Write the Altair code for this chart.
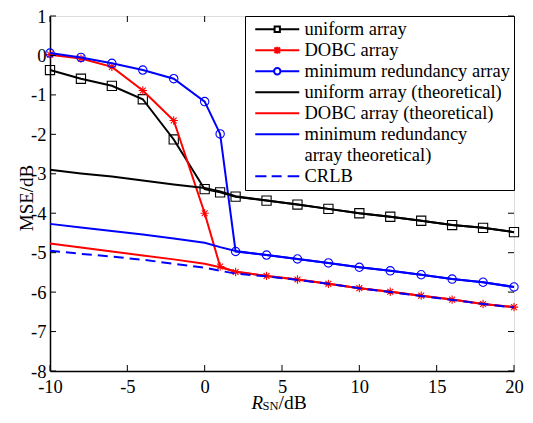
import altair as alt
import pandas as pd

# ---------------- data ----------------
snr = [-10, -8, -6, -4, -2, 0, 1, 2, 4, 6, 8, 10, 12, 14, 16, 18, 20]
uniform_sim = [-0.37, -0.59, -0.77, -1.11, -2.13, -3.39, -3.47, -3.58, -3.68, -3.78, -3.89, -4.0, -4.09, -4.19, -4.3, -4.37, -4.48]
dobc_sim = [0.02, -0.08, -0.29, -0.89, -1.65, -4.0, -5.35, -5.49, -5.59, -5.68, -5.79, -5.9, -5.99, -6.09, -6.19, -6.3, -6.38]
mra_sim = [0.06, -0.05, -0.2, -0.37, -0.59, -1.17, -1.99, -4.97, -5.06, -5.16, -5.26, -5.37, -5.46, -5.56, -5.67, -5.75, -5.87]
uniform_th = [-2.9, -2.99, -3.07, -3.17, -3.27, -3.36, -3.45, -3.57, -3.68, -3.78, -3.89, -4.0, -4.09, -4.19, -4.3, -4.37, -4.48]
dobc_th = [-4.77, -4.87, -4.97, -5.07, -5.17, -5.28, -5.37, -5.48, -5.59, -5.68, -5.79, -5.9, -5.99, -6.09, -6.19, -6.3, -6.38]
mra_th = [-4.27, -4.36, -4.45, -4.54, -4.64, -4.75, -4.86, -4.96, -5.06, -5.16, -5.26, -5.37, -5.46, -5.56, -5.67, -5.75, -5.87]
crlb = [-4.95, -5.03, -5.1, -5.18, -5.28, -5.38, -5.46, -5.53, -5.6, -5.69, -5.79, -5.9, -6.0, -6.1, -6.2, -6.3, -6.39]

series_names = [
    "uniform array",
    "DOBC array",
    "minimum redundancy array",
    "uniform array (theoretical)",
    "DOBC array (theoretical)",
    "minimum redundancy array theoretical)",
    "CRLB",
]
series_values = [uniform_sim, dobc_sim, mra_sim, uniform_th, dobc_th, mra_th, crlb]
series_colors = ["#000000", "#ff0000", "#0000ff", "#000000", "#ff0000", "#0000ff", "#0000ff"]
series_markers = ["square", "asterisk", "circle", None, None, None, None]
series_dash = [None, None, None, None, None, None, [10, 6]]

x_ticks = [-10, -5, 0, 5, 10, 15, 20]
y_ticks = [1, 0, -1, -2, -3, -4, -5, -6, -7, -8]

# ---------------- style ----------------
W, H = 464, 355
FONT = "Liberation Serif"
FS = 18.5

ASTERISK = "M-1,0L1,0M0,-1L0,1M-0.7,-0.7L0.7,0.7M-0.7,0.7L0.7,-0.7"
marker_shape = {"square": "square", "circle": "circle", "asterisk": ASTERISK}
marker_size = {"square": 85, "circle": 70, "asterisk": 70}

# legend symbols (unit = 8 px)
L0, L1, C = -0.375, 5.125, 2.375
legend_paths = [
    f"M{L0},0L{C-0.33},0M{C-0.33},-0.33L{C+0.33},-0.33L{C+0.33},0.33L{C-0.33},0.33ZM{C+0.33},0L{L1},0",
    f"M{L0},0L{L1},0M{C},-0.45L{C},0.45M{C-0.35},-0.35L{C+0.35},0.35M{C-0.35},0.35L{C+0.35},-0.35",
    f"M{L0},0L{C-0.4},0A0.4,0.4,0,1,1,{C+0.4},0A0.4,0.4,0,1,1,{C-0.4},0M{C+0.4},0L{L1},0",
    f"M{L0},0L{L1},0",
    f"M{L0},0L{L1},0",
    f"M{L0},0L{L1},0",
    f"M{L0},0L{L0+1.4},0M{L0+2.05},0L{L0+3.3},0M{L0+4.05},0L{L1},0",
]

xscale = alt.Scale(domain=[-10, 20], nice=False, zero=False)
yscale = alt.Scale(domain=[-8, 1], nice=False, zero=False)
NEG = "datum.value < 0 ? '-' + abs(datum.value) : '' + datum.value"
xaxis = alt.Axis(title=None, values=x_ticks, ticks=False, tickSize=0, grid=False,
                 labelPadding=6, labelFont=FONT, labelFontSize=FS, labelColor="black",
                 domainColor="black", domainWidth=1.5, labelExpr=NEG,
                 labelFlush=False, labelOverlap=False)
yaxis = alt.Axis(title="MSE/dB", values=y_ticks, ticks=False, tickSize=0, grid=False,
                 labelPadding=4, labelFont=FONT, labelFontSize=FS, labelColor="black",
                 domainColor="black", domainWidth=1.5, labelExpr=NEG,
                 labelFlush=False, labelOverlap=False,
                 titleFont=FONT, titleFontSize=19, titleFontWeight="normal", titleColor="black",
                 titleX=-24, titleY=H / 2 + 4, titleAngle=270, titleAlign="center", titleBaseline="middle")

X = alt.X("x:Q", scale=xscale, axis=xaxis)
Y = alt.Y("y:Q", scale=yscale, axis=yaxis)

rows = []
for name, vals in zip(series_names, series_values):
    for xv, yv in zip(snr, vals):
        rows.append({"series": name, "x": xv, "y": yv})
df = pd.DataFrame(rows)

layers = []
for name, col, mk, dash in zip(series_names, series_colors, series_markers, series_dash):
    sub = df[df.series == name]
    kw = dict(color=col, strokeWidth=2)
    if dash:
        kw["strokeDash"] = dash
    layers.append(alt.Chart(sub).mark_line(**kw).encode(x=X, y=Y))
    if mk:
        layers.append(
            alt.Chart(sub).mark_point(shape=marker_shape[mk], size=marker_size[mk], filled=False,
                                      color=col, strokeWidth=1.1, opacity=1).encode(x=X, y=Y)
        )

# inward ticks on all four sides
xt = pd.DataFrame({"x": x_ticks})
yt = pd.DataFrame({"y": y_ticks})
for yv in [H - 3, 3]:
    layers.append(alt.Chart(xt).mark_tick(orient="vertical", size=6, thickness=1, color="black", opacity=1)
                  .encode(x=X, y=alt.value(yv)))
for xv in [3, W - 3]:
    layers.append(alt.Chart(yt).mark_tick(orient="horizontal", size=6, thickness=1, color="black", opacity=1)
                  .encode(y=Y, x=alt.value(xv)))

# legend layer (no visible marks)
leg = alt.Legend(title=None, orient="top-right", offset=0, padding=4, labelFont=FONT,
                 labelFontSize=FS, labelLimit=0, labelOffset=37, symbolSize=256,
                 symbolStrokeWidth=2, rowPadding=2, fillColor="white", strokeColor="black",
                 labelColor="black", symbolOpacity=1,
                 labelExpr="datum.label == 'minimum redundancy array theoretical)' ? ['minimum redundancy', 'array theoretical)'] : datum.label")
layers.append(
    alt.Chart(df).transform_filter("false").mark_point(filled=False, opacity=1).encode(
        x=X, y=Y,
        color=alt.Color("series:N", scale=alt.Scale(domain=series_names, range=series_colors), legend=leg),
        shape=alt.Shape("series:N", scale=alt.Scale(domain=series_names, range=legend_paths), legend=leg),
    )
)

# x-axis title with subscript
one = pd.DataFrame({"t": [0]})
TX = W / 2 - 30.5
layers.append(alt.Chart(one).mark_text(text="R", font=FONT, fontSize=19, fontStyle="italic", align="left",
                                       baseline="alphabetic", color="black")
              .encode(x=alt.value(TX), y=alt.value(H + 38)))
layers.append(alt.Chart(one).mark_text(text="SN", font=FONT, fontSize=12.5, align="left",
                                       baseline="alphabetic", color="black")
              .encode(x=alt.value(TX + 11), y=alt.value(H + 39)))
layers.append(alt.Chart(one).mark_text(text="/dB", font=FONT, fontSize=19.5, align="left",
                                       baseline="alphabetic", color="black")
              .encode(x=alt.value(TX + 27), y=alt.value(H + 38)))

chart = alt.layer(*layers).properties(
    width=W, height=H,
    padding={"left": 42, "top": 8, "right": 11, "bottom": 44},
    autosize=alt.AutoSizeParams(type="none"),
).configure_view(stroke="black", strokeWidth=1.5).configure(background="white")

chart.save("out.html", embed_options={"renderer": "svg", "actions": False})
